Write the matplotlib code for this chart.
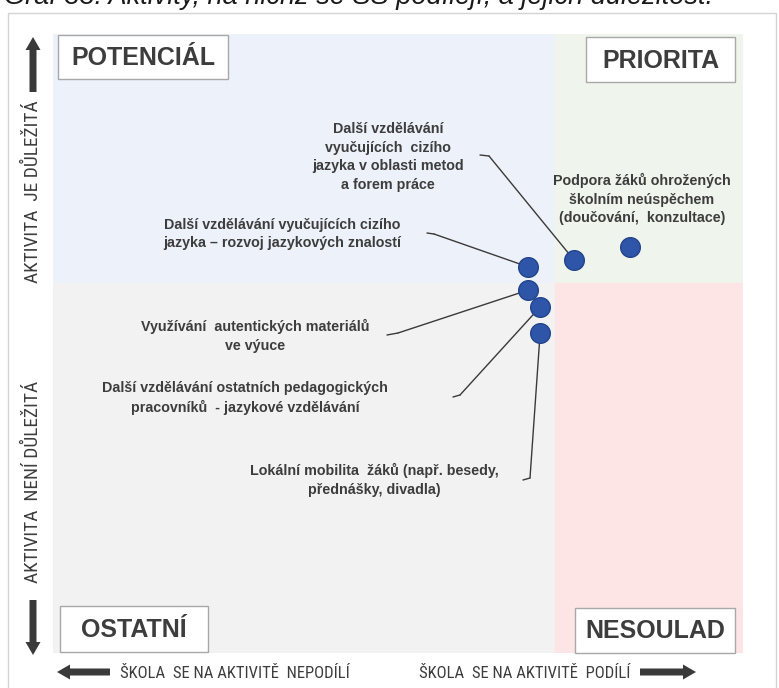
import matplotlib
matplotlib.use("Agg")
import matplotlib.pyplot as plt
from matplotlib import font_manager
from matplotlib.font_manager import FontProperties
from matplotlib.patches import Rectangle, FancyArrow

W, H = 779, 688

# activities (x = zapojení školy, y = důležitost)
activities = [
    "Další vzdělávání vyučujících cizího\njazyka – rozvoj jazykových znalostí",
    "Další vzdělávání\nvyučujících  cizího\njazyka v oblasti metod\na forem práce",
    "Podpora žáků ohrožených\nškolním neúspěchem\n(doučování,  konzultace)",
    "Využívání  autentických materiálů\nve výuce",
    "Další vzdělávání ostatních pedagogických\npracovníků  - jazykové vzdělávání",
    "Lokální mobilita  žáků (např. besedy,\npřednášky, divadla)",
]
x_vals = [68.8, 75.5, 83.6, 68.8, 70.6, 70.6]
y_vals = [62.4, 63.5, 65.6, 58.6, 55.9, 51.7]

split_x, split_y = 72.8, 59.8

quadrants = ["POTENCIÁL", "PRIORITA", "OSTATNÍ", "NESOULAD"]
axis_texts = ["AKTIVITA  JE DŮLEŽITÁ", "AKTIVITA  NENÍ DŮLEŽITÁ",
              "ŠKOLA  SE NA AKTIVITĚ  NEPODÍLÍ", "ŠKOLA  SE NA AKTIVITĚ  PODÍLÍ"]
title = "Graf 33: Aktivity, na nichž se SŠ podílejí, a jejich důležitost."


def narrow_font():
    # look for an installed condensed / narrow sans face
    prefs = ["Liberation Sans Narrow", "Arial Narrow", "Roboto Condensed",
             "Open Sans Condensed", "DejaVu Sans Condensed", "Noto Sans Condensed"]
    found = {}
    for f in font_manager.fontManager.ttflist:
        tag = f.name + " " + f.fname
        if f.style != "normal":
            continue
        if "Narrow" not in tag and "Condensed" not in tag and f.stretch not in ("condensed", "semi-condensed"):
            continue
        low = f.fname.lower()
        if any(k in low for k in ("bold", "light", "thin", "black", "medium", "semi", "extra")):
            continue
        found.setdefault(f.name, f.fname)
        if "DejaVuSansCondensed.ttf" in f.fname:
            found["DejaVu Sans Condensed"] = f.fname
    for p in prefs:
        if p in found:
            return found[p]
    if found:
        return list(found.values())[0]
    return None


def fitted_font(text, target_px, fname, ref=12):
    # font properties sized so `text` is about target_px wide
    fp = FontProperties(fname=fname) if fname else FontProperties(family="Liberation Sans")
    fp.set_size(ref)
    probe = fig.text(0, 0, text, fontproperties=fp)
    w = probe.get_window_extent(renderer).width
    probe.remove()
    fp.set_size(min(14, ref * target_px / w))
    return fp


plt.rcParams["font.family"] = ["Liberation Sans", "DejaVu Sans"]

TXT = "#3d3d3d"
fig = plt.figure(figsize=(W / 100, H / 100), dpi=100)
renderer = fig.canvas.get_renderer()


def px(x, y):
    # top-left pixel position -> figure pixels
    return (x, H - y)


# main plotting area
ax = fig.add_axes([53 / W, (H - 653) / H, 690 / W, 619 / H])
ax.set_xlim(0, 100)
ax.set_ylim(0, 100)
ax.axis("off")

ax.add_patch(Rectangle((0, split_y), split_x, 100 - split_y, color="#edf2fa", zorder=0))
ax.add_patch(Rectangle((split_x, split_y), 100 - split_x, 100 - split_y, color="#eff5ec", zorder=0))
ax.add_patch(Rectangle((0, 0), split_x, split_y, color="#f2f2f2", zorder=0))
ax.add_patch(Rectangle((split_x, 0), 100 - split_x, split_y, color="#fde5e5", zorder=0))

ax.scatter(x_vals, y_vals, s=200, color="#2f55a8", edgecolor="#23448a",
           linewidth=1, zorder=5)

# label centres and leader stubs (pixels, from top-left)
label_pos = [(282, 234), (388, 157), (642, 199), (255, 336), (245, 398), (374, 480)]
stubs = [((427, 233), (434, 234)), ((480, 155), (489, 156)), None,
         ((387, 335), (398, 333)), ((453, 397), (460, 395)), ((523, 480), (530, 478))]

for i, name in enumerate(activities):
    ax.annotate(name, xy=(x_vals[i], y_vals[i]), xytext=px(*label_pos[i]),
                textcoords="figure pixels", ha="center", va="center",
                multialignment="center", fontsize=10.3, fontweight="bold",
                color=TXT, linespacing=1.4, zorder=6)
    if stubs[i] is not None:
        (sx, sy), (ex, ey) = stubs[i]
        ax.annotate("", xy=(x_vals[i], y_vals[i]), xytext=px(ex, ey),
                    textcoords="figure pixels",
                    arrowprops=dict(arrowstyle="-", color="#3a3a3a", lw=1,
                                    shrinkA=0, shrinkB=0), zorder=4)
        ax.annotate("", xy=px(ex, ey), xycoords="figure pixels",
                    xytext=px(sx, sy), textcoords="figure pixels",
                    arrowprops=dict(arrowstyle="-", color="#3a3a3a", lw=1,
                                    shrinkA=0, shrinkB=0), zorder=4)

# decorations in pixel space
deco = fig.add_axes([0, 0, 1, 1], zorder=3)
deco.set_xlim(0, W)
deco.set_ylim(H, 0)
deco.axis("off")
deco.patch.set_visible(False)

deco.add_patch(Rectangle((8, 13), 768, 690, fill=False, edgecolor="#d4d4d4", lw=1))

# caption above the chart, cropped at the top like in the source page
deco.text(4, 4, title, fontsize=19.5, style="italic", color="#1a1a1a",
          ha="left", va="baseline", clip_on=False)

boxes = [(58, 35, 170, 44), (586, 37, 149, 45), (60, 606, 148, 46), (575, 608, 160, 45)]
for (bx, by, bw, bh), q in zip(boxes, quadrants):
    deco.add_patch(Rectangle((bx, by), bw, bh, facecolor="white",
                             edgecolor="#a8a8a8", lw=1, zorder=7))
    deco.text(bx + bw / 2, by + bh / 2 + 1, q, ha="center", va="center",
              fontsize=18, fontweight="bold", color=TXT, zorder=8)

ARW = "#3a3a3a"
arrows = [(33, 92, 0, -55), (33, 600, 0, 55), (110, 672, -53, 0), (640, 672, 56, 0)]
for x0, y0, dx, dy in arrows:
    deco.add_patch(FancyArrow(x0, y0, dx, dy, width=7, head_width=15,
                              head_length=13, length_includes_head=True,
                              color=ARW, lw=0, zorder=8))

# axis captions in a narrow face
nf = narrow_font()
fp_bottom = fitted_font(axis_texts[2], 230, nf)
fp_side = fitted_font(axis_texts[0], 182, nf)

deco.text(33, 192, axis_texts[0], rotation=90, ha="center", va="center",
          fontproperties=fp_side, color=TXT)
deco.text(33, 482, axis_texts[1], rotation=90, ha="center", va="center",
          fontproperties=fp_side, color=TXT)
deco.text(120, 673, axis_texts[2], ha="left", va="center",
          fontproperties=fp_bottom, color=TXT)
deco.text(630, 673, axis_texts[3], ha="right", va="center",
          fontproperties=fp_bottom, color=TXT)

fig.savefig("out.png", dpi=100, facecolor="white")
